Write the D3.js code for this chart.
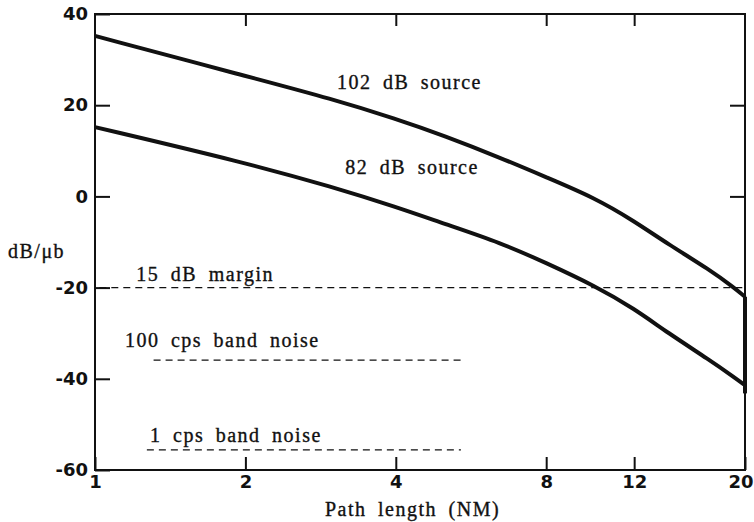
<!DOCTYPE html>
<html>
<head>
<meta charset="utf-8">
<script src="https://cdn.jsdelivr.net/npm/d3@7"></script>
<style>
  body { margin: 0; background: #fff; }
  svg { display: block; }
</style>
</head>
<body>
<svg id="chart" width="754" height="522"></svg>
<script>
// path length (NM) samples
const source102X = [1, 2, 3, 4, 5, 6.5, 8, 10, 12, 14, 17, 19, 20];
const source102Y = [35.2, 26.4, 21.3, 17.0, 13.3, 8.4, 4.2, -0.3, -5.4, -10.4, -16.1, -20.0, -22.0];

const source82X = [1, 2, 3, 4, 5, 6.5, 8, 10, 12, 14, 17, 19, 20];
const source82Y = [15.2, 7.4, 2.0, -2.3, -6.0, -10.2, -14.6, -19.6, -24.6, -29.9, -35.9, -39.6, -41.4];

// cut-off drop at 20 NM
const cutoffX = [20, 20];
const cutoffY = [-22.0, -43.2];

// dashed reference levels
const refNames = ["15 dB margin", "100 cps band noise", "1 cps band noise"];
const refLevel = [-20, -35.9, -55.6];
const refFrom = [1.02, 1.31, 1.27];
const refTo = [20, 5.4, 5.4];

const xTicks = [1, 2, 4, 8, 12, 20];
const yTicks = [40, 20, 0, -20, -40, -60];

const svg = d3.select("#chart");
const margin = { top: 14, right: 9, bottom: 52, left: 95 };
const width = 754, height = 522;

const sans = '"DejaVu Sans", sans-serif';
const serif = '"Liberation Serif", "Times New Roman", serif';

const x = d3.scaleLog().domain([1, 20]).range([margin.left, width - margin.right]);
const y = d3.scaleLinear().domain([-60, 40]).range([height - margin.bottom, margin.top]);

// frame
svg.append("rect")
  .attr("x", x(1)).attr("y", y(40))
  .attr("width", x(20) - x(1)).attr("height", y(-60) - y(40))
  .attr("fill", "none").attr("stroke", "#111").attr("stroke-width", 2);

const fmt = (d) => String(d);

const leftAxis = svg.append("g")
  .attr("transform", `translate(${x(1)},0)`)
  .call(d3.axisLeft(y).tickValues(yTicks).tickSize(-15).tickPadding(7).tickFormat(fmt));

const bottomAxis = svg.append("g")
  .attr("transform", `translate(0,${y(-60)})`)
  .call(d3.axisBottom(x).tickValues(xTicks).tickSize(-13).tickPadding(5).tickFormat(fmt));

const topAxis = svg.append("g")
  .attr("transform", `translate(0,${y(40)})`)
  .call(d3.axisTop(x).tickValues(xTicks.slice(1, -1)).tickSize(-12).tickFormat(""));

const rightAxis = svg.append("g")
  .attr("transform", `translate(${x(20)},0)`)
  .call(d3.axisRight(y).tickValues([20, 0]).tickSize(-15).tickFormat(""));

[leftAxis, bottomAxis, topAxis, rightAxis].forEach((g) => {
  g.attr("font-family", sans).attr("font-size", 18).attr("font-weight", "bold");
  g.select(".domain").remove();
  g.selectAll(".tick line").attr("stroke", "#111").attr("stroke-width", 2);
  g.selectAll(".tick text").attr("fill", "#111");
});

// last x label sits against the page edge
bottomAxis.selectAll(".tick text")
  .filter((d) => d === 20)
  .attr("text-anchor", "end")
  .attr("dx", 8);

// reference dashed lines
refLevel.forEach((lvl, i) => {
  svg.append("line")
    .attr("x1", x(refFrom[i])).attr("x2", x(refTo[i]))
    .attr("y1", y(lvl)).attr("y2", y(lvl))
    .attr("stroke", "#111").attr("stroke-width", 1.3)
    .attr("stroke-dasharray", "7,5");
});

const line = d3.line()
  .x((d) => x(d[0]))
  .y((d) => y(d[1]))
  .curve(d3.curveBasis);

const curves = [
  d3.zip(source102X, source102Y),
  d3.zip(source82X, source82Y)
];

svg.append("g")
  .selectAll("path")
  .data(curves)
  .join("path")
  .attr("d", line)
  .attr("fill", "none")
  .attr("stroke", "#111")
  .attr("stroke-width", 4)
  .attr("stroke-linejoin", "round");

svg.append("path")
  .attr("d", d3.line().x((d) => x(d[0])).y((d) => y(d[1]))(d3.zip(cutoffX, cutoffY)))
  .attr("stroke", "#111")
  .attr("stroke-width", 4);

// annotations (anchored in data units)
const notes = [
  { text: "102 dB source", nx: 3.05, ny: 23.5 },
  { text: "82 dB source", nx: 3.17, ny: 4.9 },
  { text: refNames[0], nx: 1.21, ny: -18.6 },
  { text: refNames[1], nx: 1.148, ny: -33 },
  { text: refNames[2], nx: 1.289, ny: -53.9 }
];

const setNote = (sel) => sel
  .style("font-family", serif)
  .style("font-size", "20px")
  .style("letter-spacing", "1.5px")
  .style("word-spacing", "5px")
  .attr("fill", "#111")
  .attr("stroke", "#111")
  .attr("stroke-width", 0.35);

svg.append("g")
  .selectAll("text")
  .data(notes)
  .join("text")
  .attr("x", (d) => x(d.nx))
  .attr("y", (d) => y(d.ny))
  .text((d) => d.text)
  .call(setNote);

svg.append("text")
  .attr("x", 8).attr("y", 258)
  .text("dB/\u03BCb")
  .call(setNote);

svg.append("text")
  .attr("x", 325).attr("y", 516)
  .text("Path length (NM)")
  .call(setNote);
</script>
</body>
</html>
